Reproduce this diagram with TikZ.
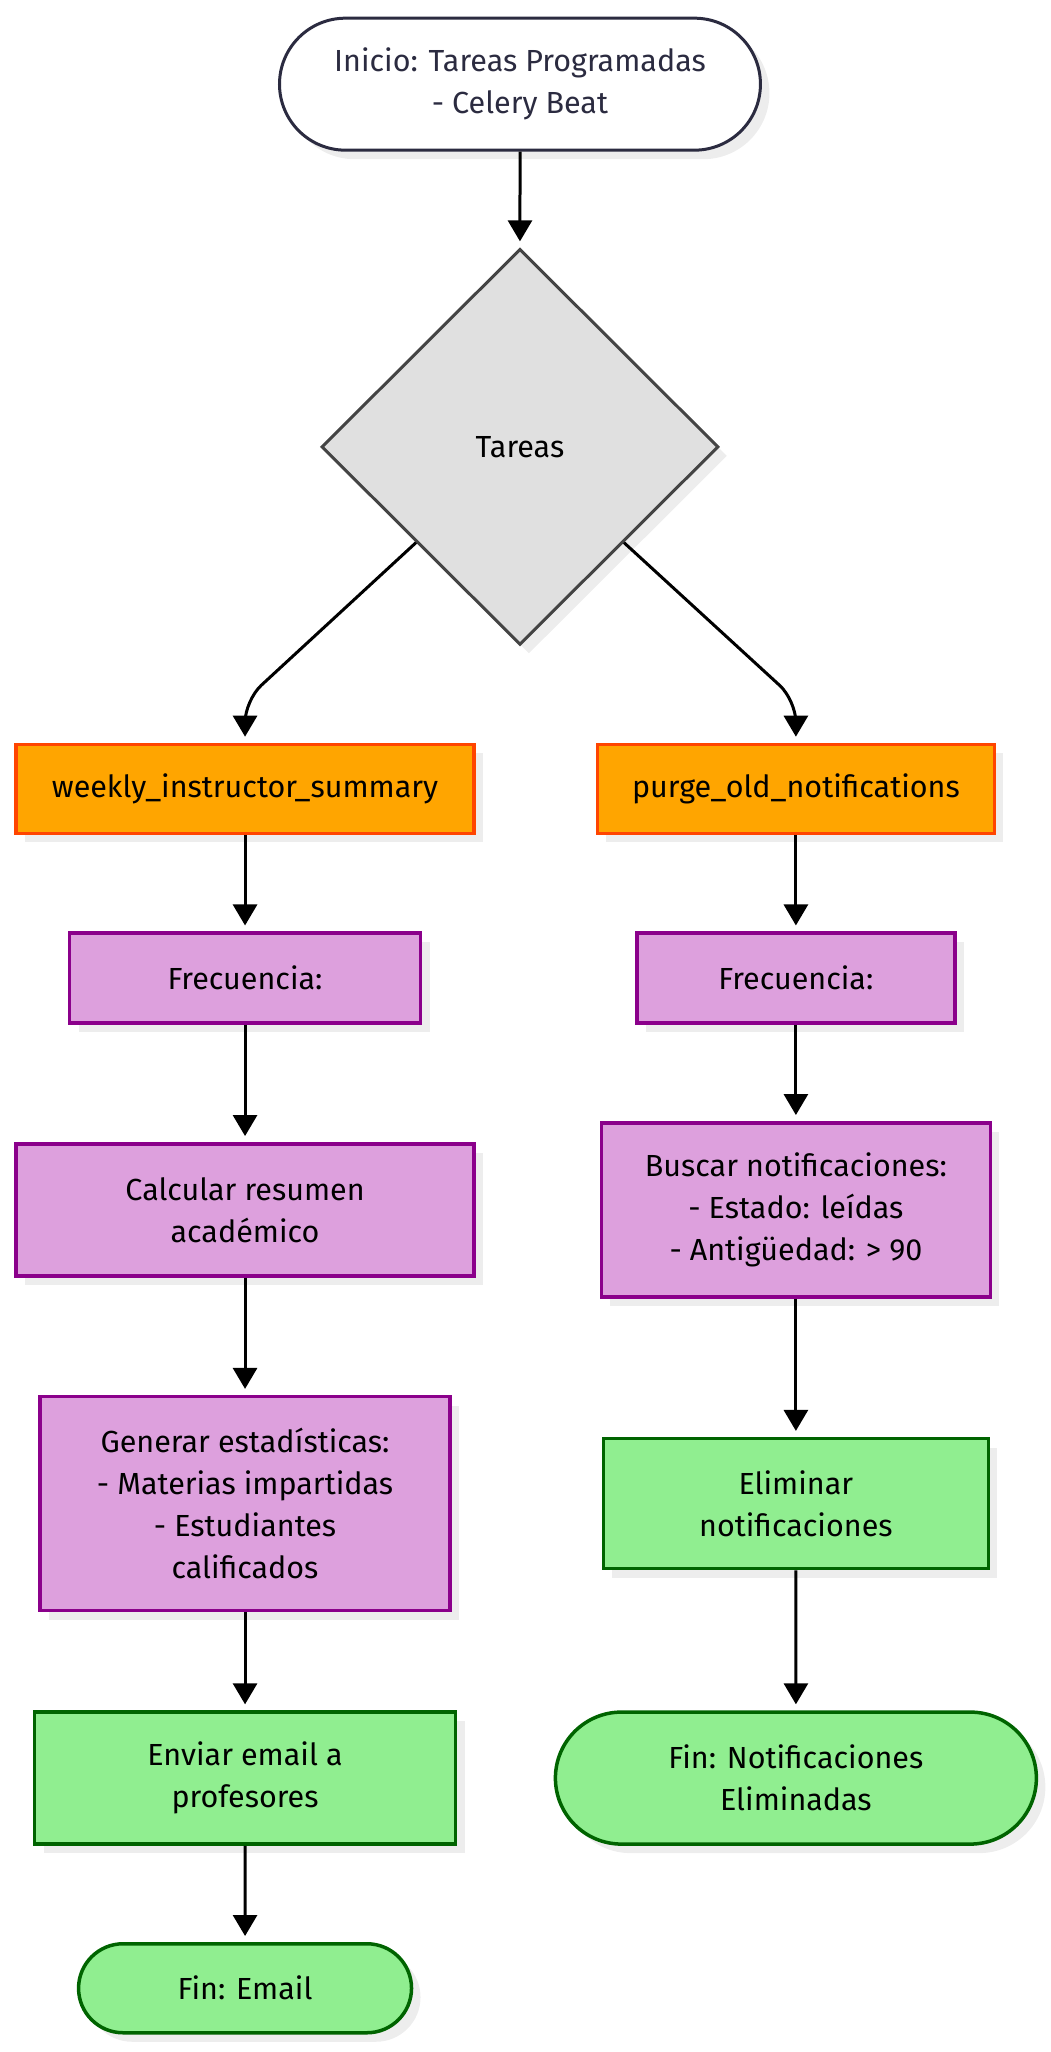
\documentclass[tikz,border=0pt]{standalone}
\usepackage{fontspec}
\setmainfont{Fira Sans}
\usepackage{xcolor}
\usepackage{tikz}
\usetikzlibrary{positioning}
\usetikzlibrary{calc}
\usetikzlibrary{shapes.geometric}
\usetikzlibrary{shapes.misc}
\usetikzlibrary{shadows}
\usetikzlibrary{arrows.meta}
\pgfdeclarelayer{nodelayer}
\pgfdeclarelayer{edgelayer}
\pgfsetlayers{nodelayer,edgelayer,main}
\definecolor{tinta}{HTML}{2B2B40}
\definecolor{naranja}{HTML}{FFA500}
\definecolor{naranjaborde}{HTML}{FF4500}
\definecolor{lila}{HTML}{DDA0DD}
\definecolor{lilaborde}{HTML}{8B008B}
\definecolor{verde}{HTML}{90EE90}
\definecolor{verdeborde}{HTML}{006400}
\definecolor{gris}{HTML}{E0E0E0}
\definecolor{grisborde}{HTML}{444444}
\tikzset{
    none/.style = {inner sep=0pt},
    sombra/.style = {drop shadow={shadow xshift=9pt, shadow yshift=-9pt, opacity=1, fill=black!7}},
    base/.style = {inner sep=0pt, align=center, font=\fontsize{30.5}{42}\selectfont, sombra},
    inicio/.style = {base, rounded rectangle, fill=white, draw=tinta, line width=3pt, text=tinta},
    decision/.style = {base, diamond, fill=gris, draw=grisborde, line width=3pt},
    tarea/.style = {base, rectangle, fill=naranja, draw=naranjaborde, line width=3.5pt},
    proceso/.style = {base, rectangle, fill=lila, draw=lilaborde, line width=3.5pt},
    salida/.style = {base, rectangle, fill=verde, draw=verdeborde, line width=3.5pt},
    fin/.style = {base, rounded rectangle, fill=verde, draw=verdeborde, line width=3.5pt},
    flecha/.style = {line width=3pt, -{Triangle[length=21pt, width=24pt]}, shorten >=6pt}
}

\begin{document}
\begin{tikzpicture}[x=0.9962pt, y=-0.9962pt]
  \useasboundingbox (0, 0) rectangle (1055, 2060);
  \begin{pgfonlayer}{nodelayer}
    \node [style=inicio, minimum width=481, minimum height=132] (start) at (522, 84.5) {Inicio: Tareas Programadas\\- Celery Beat};
    \node [style=decision, minimum width=397, minimum height=396] (tareas) at (522, 448.6) {Tareas};
    \node [style=tarea, minimum width=458, minimum height=89] (weekly) at (246, 792) {weekly\_instructor\_summary};
    \node [style=tarea, minimum width=397, minimum height=89] (purge) at (799, 792) {purge\_old\_notifications};
    \node [style=proceso, minimum width=351, minimum height=90] (frecW) at (246, 982) {Frecuencia:};
    \node [style=proceso, minimum width=318, minimum height=90] (frecP) at (799, 982) {Frecuencia:};
    \node [style=proceso, minimum width=458, minimum height=132] (calc) at (246, 1214.5) {Calcular resumen\\académico};
    \node [style=proceso, minimum width=389, minimum height=174] (buscar) at (799, 1214.5) {Buscar notificaciones:\\- Estado: leídas\\- Antigüedad: > 90};
    \node [style=proceso, minimum width=410, minimum height=214] (gen) at (246, 1509.5) {Generar estadísticas:\\- Materias impartidas\\- Estudiantes\\calificados};
    \node [style=salida, minimum width=385, minimum height=130] (elim) at (799, 1509.5) {Eliminar\\notificaciones};
    \node [style=salida, minimum width=421, minimum height=132] (envio) at (246, 1785) {Enviar email a\\profesores};
    \node [style=fin, minimum width=481, minimum height=132] (finNotif) at (799, 1785) {Fin: Notificaciones\\Eliminadas};
    \node [style=fin, minimum width=333, minimum height=89] (finMail) at (246, 1996) {Fin: Email};
    \coordinate (codoW) at (246, 703);
    \coordinate (codoP) at (799, 703);
  \end{pgfonlayer}
  \begin{pgfonlayer}{edgelayer}
    \draw [style=flecha] (start) to (tareas);
    \draw [style=flecha, rounded corners=22pt] ($(tareas.west)!0.48!(tareas.south)$) -- (codoW) -- (weekly.north);
    \draw [style=flecha, rounded corners=22pt] ($(tareas.east)!0.48!(tareas.south)$) -- (codoP) -- (purge.north);
    \draw [style=flecha] (weekly) to (frecW);
    \draw [style=flecha] (frecW) to (calc);
    \draw [style=flecha] (calc) to (gen);
    \draw [style=flecha] (gen) to (envio);
    \draw [style=flecha] (envio) to (finMail);
    \draw [style=flecha] (purge) to (frecP);
    \draw [style=flecha] (frecP) to (buscar);
    \draw [style=flecha] (buscar) to (elim);
    \draw [style=flecha] (elim) to (finNotif);
  \end{pgfonlayer}
\end{tikzpicture}
\end{document}
